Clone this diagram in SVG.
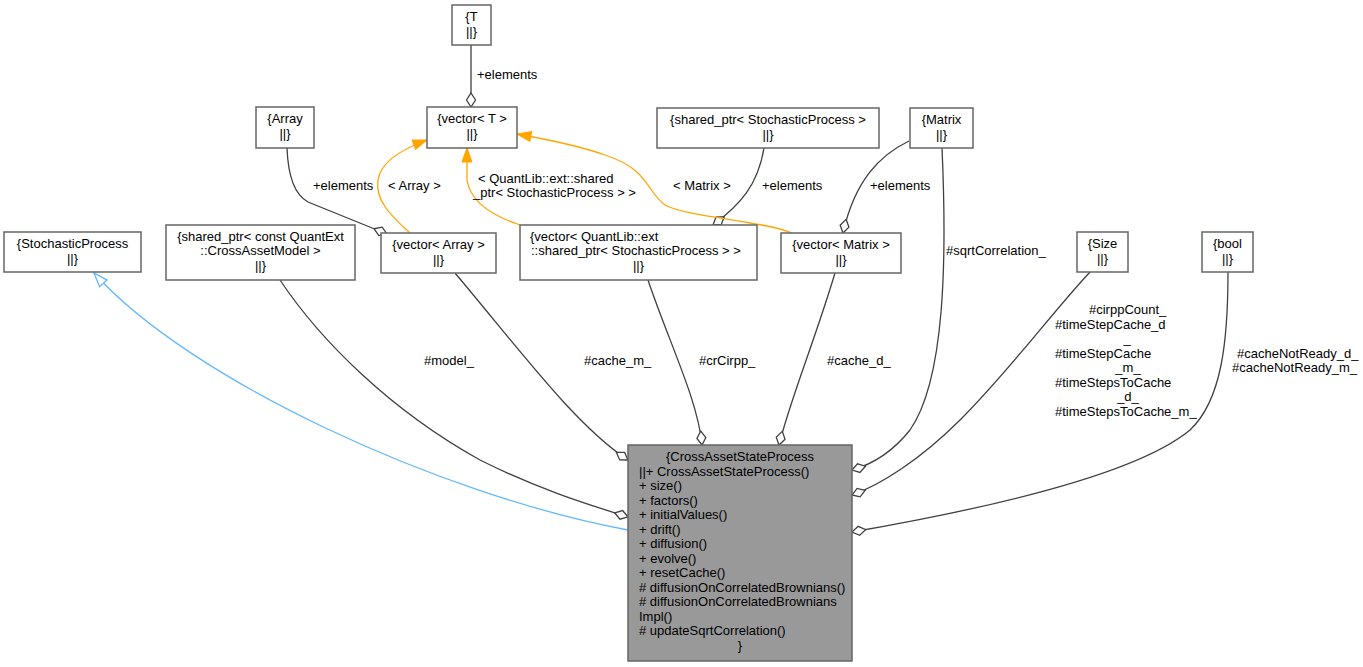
<svg xmlns="http://www.w3.org/2000/svg" width="1363" height="667" viewBox="0 0 1363 667">
<style>
text{font-family:"Liberation Sans",Arial,sans-serif;font-size:13px;fill:#000}
.n{fill:#fff;stroke:#666;stroke-width:1.5}
.main{fill:#999;stroke:#666;stroke-width:1.5}
.e{fill:none;stroke:#404040;stroke-width:1.3;marker-end:url(#dia)}
.t{fill:none;stroke:#ffa500;stroke-width:1.3;marker-end:url(#tri)}
.i{fill:none;stroke:#63b8ff;stroke-width:1.3;marker-end:url(#inh)}
.m{text-anchor:middle}
</style>
<defs>
<marker id="dia" markerUnits="userSpaceOnUse" viewBox="0 0 16 12" markerWidth="16" markerHeight="12" refX="15" refY="6" orient="auto"><path d="M1,6 L8,1.5 L15,6 L8,10.5 Z" fill="#fff" stroke="#404040" stroke-width="1.3"/></marker>
<marker id="tri" markerUnits="userSpaceOnUse" viewBox="0 0 16 12" markerWidth="16" markerHeight="12" refX="15" refY="6" orient="auto"><path d="M1,1 L15,6 L1,11 Z" fill="#ffa500" stroke="#ffa500" stroke-width="1"/></marker>
<marker id="inh" markerUnits="userSpaceOnUse" viewBox="0 0 16 12" markerWidth="16" markerHeight="12" refX="15" refY="6" orient="auto"><path d="M1,1 L15,6 L1,11 Z" fill="#fff" stroke="#63b8ff" stroke-width="1.3"/></marker>
</defs>
<rect width="1363" height="667" fill="#fff"/>
<g id="connectors">
<path class="i" d="M628,530 C440,495 190,380 94,273"/>
<path class="e" d="M280,280 C320,340 390,410 480,460 C540,490 590,505 628,517"/>
<path class="e" d="M455,273 C520,350 575,425 628,460"/>
<path class="e" d="M648,280 C668,340 698,400 702,445"/>
<path class="e" d="M835,273 C815,340 790,400 779,445"/>
<path class="e" d="M942,148 C947,260 945,380 910,430 C890,455 870,465 852,470"/>
<path class="e" d="M1090,272 C1050,315 1010,370 960,420 C920,460 880,485 852,495"/>
<path class="e" d="M1228,272 C1228,340 1222,400 1190,430 C1130,480 950,515 852,532"/>
<path class="e" d="M471,45 L471,107"/>
<path class="e" d="M287,148 C288,175 295,195 308,202 L387,234"/>
<path class="e" d="M764,148 C758,185 740,205 713,225"/>
<path class="e" d="M909,141 C880,155 855,180 843,233"/>
<path class="t" d="M410,233 C390,215 375,200 378,180 C381,160 405,148 427,140"/>
<path class="t" d="M520,225 C490,215 470,200 467,180 L467,148"/>
<path class="t" d="M792,233 C760,220 690,218 665,205 C645,190 650,170 605,155 C580,146 545,139 517,134"/>
<text x="477" y="79">+elements</text>
<text x="313" y="190">+elements</text>
<text x="388" y="190">&lt; Array &gt;</text>
<text x="478" y="183">&lt; QuantLib::ext::shared</text>
<text x="473" y="197">_ptr&lt; StochasticProcess &gt; &gt;</text>
<text x="673" y="190">&lt; Matrix &gt;</text>
<text x="762" y="190">+elements</text>
<text x="870" y="190">+elements</text>
<text x="946" y="255">#sqrtCorrelation_</text>
<text x="424" y="365">#model_</text>
<text x="584" y="365">#cache_m_</text>
<text x="699" y="365">#crCirpp_</text>
<text x="827" y="365">#cache_d_</text>
<text x="1089" y="314">#cirppCount_</text>
<text x="1055" y="328.5">#timeStepCache_d</text>
<text x="1127" y="343" class="m">_</text>
<text x="1055" y="357.5">#timeStepCache</text>
<text x="1128" y="372" class="m">_m_</text>
<text x="1055" y="386.5">#timeStepsToCache</text>
<text x="1128" y="401" class="m">_d_</text>
<text x="1055" y="415.5">#timeStepsToCache_m_</text>
<text x="1237" y="358">#cacheNotReady_d_</text>
<text x="1232" y="372">#cacheNotReady_m_</text>
</g>
<g id="node-T">
<rect class="n" x="452" y="5" width="39" height="40"/>
<text x="471.5" y="21" class="m">{T</text>
<text x="471.5" y="35.5" class="m">||}</text>
</g>
<g id="node-vectorT">
<rect class="n" x="427" y="107" width="90" height="41"/>
<text x="472" y="123" class="m">{vector&lt; T &gt;</text>
<text x="472" y="137.5" class="m">||}</text>
</g>
<g id="node-Array">
<rect class="n" x="256" y="107" width="58" height="41"/>
<text x="285" y="123" class="m">{Array</text>
<text x="285" y="137.5" class="m">||}</text>
</g>
<g id="node-sharedSP">
<rect class="n" x="657" y="108" width="222" height="40"/>
<text x="768" y="124" class="m">{shared_ptr&lt; StochasticProcess &gt;</text>
<text x="768" y="138.5" class="m">||}</text>
</g>
<g id="node-Matrix">
<rect class="n" x="910" y="108" width="63" height="40"/>
<text x="941.5" y="124" class="m">{Matrix</text>
<text x="941.5" y="138.5" class="m">||}</text>
</g>
<g id="node-StochasticProcess">
<rect class="n" x="4" y="232" width="137" height="40"/>
<text x="72.5" y="248" class="m">{StochasticProcess</text>
<text x="72.5" y="262.5" class="m">||}</text>
</g>
<g id="node-sharedCAM">
<rect class="n" x="166" y="225" width="189" height="55"/>
<text x="260.5" y="240.5" class="m">{shared_ptr&lt; const QuantExt</text>
<text x="260.5" y="255" class="m">::CrossAssetModel &gt;</text>
<text x="260.5" y="269.5" class="m">||}</text>
</g>
<g id="node-vectorArray">
<rect class="n" x="381" y="233" width="115" height="40"/>
<text x="438.5" y="249" class="m">{vector&lt; Array &gt;</text>
<text x="438.5" y="263.5" class="m">||}</text>
</g>
<g id="node-vectorSP">
<rect class="n" x="520" y="225" width="237" height="55"/>
<text x="530" y="240.5">{vector&lt; QuantLib::ext</text>
<text x="531" y="255">::shared_ptr&lt; StochasticProcess &gt; &gt;</text>
<text x="638.5" y="269.5" class="m">||}</text>
</g>
<g id="node-vectorMatrix">
<rect class="n" x="781" y="233" width="120" height="40"/>
<text x="841" y="249" class="m">{vector&lt; Matrix &gt;</text>
<text x="841" y="263.5" class="m">||}</text>
</g>
<g id="node-Size">
<rect class="n" x="1077" y="232" width="51" height="40"/>
<text x="1102.5" y="248" class="m">{Size</text>
<text x="1102.5" y="262.5" class="m">||}</text>
</g>
<g id="node-bool">
<rect class="n" x="1202" y="232" width="51" height="40"/>
<text x="1227.5" y="248" class="m">{bool</text>
<text x="1227.5" y="262.5" class="m">||}</text>
</g>
<g id="node-CrossAssetStateProcess">
<rect class="main" x="628" y="445" width="224" height="216"/>
<text x="740" y="461" class="m">{CrossAssetStateProcess</text>
<text x="639" y="475.5">||+ CrossAssetStateProcess()</text>
<text x="639" y="490">+ size()</text>
<text x="639" y="504.5">+ factors()</text>
<text x="639" y="519">+ initialValues()</text>
<text x="639" y="533.5">+ drift()</text>
<text x="639" y="548">+ diffusion()</text>
<text x="639" y="562.5">+ evolve()</text>
<text x="639" y="577">+ resetCache()</text>
<text x="639" y="591.5"># diffusionOnCorrelatedBrownians()</text>
<text x="639" y="606"># diffusionOnCorrelatedBrownians</text>
<text x="639" y="620.5">Impl()</text>
<text x="639" y="635"># updateSqrtCorrelation()</text>
<text x="740" y="649.5" class="m">}</text>
</g>
</svg>
